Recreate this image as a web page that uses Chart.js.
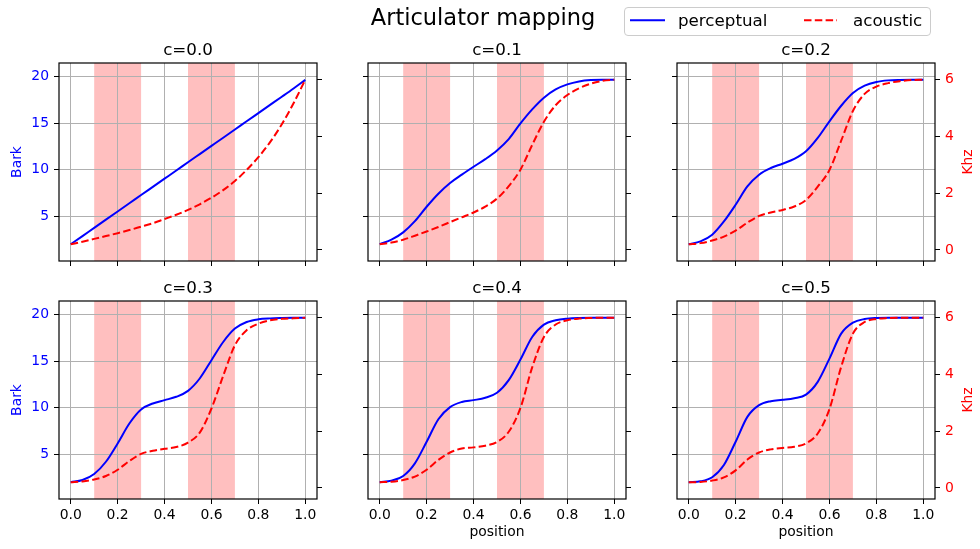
<!DOCTYPE html>
<html>
<head>
<meta charset="utf-8">
<title>Articulator mapping</title>
<script src="https://cdn.jsdelivr.net/npm/chart.js@4.4.1/dist/chart.umd.min.js"></script>
<style>
    body { margin: 0; background: #fff; width: 980px; height: 549px; overflow: hidden; position: relative;
           font-family: 'DejaVu Sans', sans-serif; }
    .panel { position: absolute; width: 363px; height: 286px; }
    #suptitle { position: absolute; left: 283px; top: 6px; width: 400px; text-align: center;
                font-size: 22.5px; line-height: 22.5px; color: #000; z-index: 5; }
    #legend { position: absolute; left: 624px; top: 7px; width: 307px; height: 29px; box-sizing: border-box;
              border: 1px solid #cccccc; border-radius: 4px; background: rgba(255,255,255,0.8); z-index: 5; }
    #legend svg { position: absolute; left: 0; top: 0; }
    #legend span { position: absolute; top: 3.9px; font-size: 16.7px; line-height: 16.7px; color: #000; white-space: nowrap; }
</style>
</head>
<body>
<div id="suptitle">Articulator mapping</div>
<div class="panel" style="left:0px;top:25px"><canvas id="p0"></canvas></div>
<div class="panel" style="left:309px;top:25px"><canvas id="p1"></canvas></div>
<div class="panel" style="left:618px;top:25px"><canvas id="p2"></canvas></div>
<div class="panel" style="left:0px;top:263px"><canvas id="p3"></canvas></div>
<div class="panel" style="left:309px;top:263px"><canvas id="p4"></canvas></div>
<div class="panel" style="left:618px;top:263px"><canvas id="p5"></canvas></div>
<div id="legend">
    <svg width="305" height="27">
        <line x1="5" y1="12.3" x2="40" y2="12.3" stroke="#0000ff" stroke-width="2"/>
        <line x1="179" y1="12.3" x2="212" y2="12.3" stroke="#ff0000" stroke-width="2" stroke-dasharray="7.5 3.3"/>
    </svg>
    <span style="left:53px">perceptual</span>
    <span style="left:228px">acoustic</span>
</div>
<script>
// position along the tract, shared by every panel
const positions = [0, 0.05, 0.1, 0.15, 0.2, 0.25, 0.3, 0.35, 0.4, 0.45, 0.5,
                   0.55, 0.6, 0.65, 0.7, 0.75, 0.8, 0.85, 0.9, 0.95, 1.0];
const cLabels = ['c=0.0', 'c=0.1', 'c=0.2', 'c=0.3', 'c=0.4', 'c=0.5'];
const shadedRegions = [[0.1, 0.3], [0.5, 0.7]];
const xTicks = [0, 0.2, 0.4, 0.6, 0.8, 1.0];
const barkTicks = [5, 10, 15, 20];
const khzTicks = [0, 2, 4, 6];

// perceptual (Bark, left axis)
const perceptualC0 = [1.96, 2.84, 3.73, 4.61, 5.49, 6.37, 7.26, 8.14, 9.02, 9.9, 10.79, 11.67, 12.55, 13.43, 14.31, 15.2, 16.08, 16.96, 17.84, 18.73, 19.65];
const perceptualC1 = [1.97, 2.45, 3.24, 4.45, 6.0, 7.4, 8.55, 9.45, 10.3, 11.12, 12.06, 13.28, 14.97, 16.48, 17.74, 18.63, 19.17, 19.49, 19.64, 19.68, 19.68];
const perceptualC2 = [1.97, 2.27, 2.99, 4.42, 6.22, 8.19, 9.45, 10.17, 10.63, 11.14, 11.96, 13.4, 15.19, 16.87, 18.24, 19.03, 19.43, 19.6, 19.65, 19.66, 19.66];
const perceptualC3 = [1.97, 2.2, 2.85, 4.17, 6.14, 8.29, 9.8, 10.44, 10.8, 11.16, 11.8, 13.13, 15.1, 17.06, 18.5, 19.21, 19.5, 19.6, 19.64, 19.66, 19.66];
const perceptualC4 = [1.97, 2.14, 2.64, 4.0, 6.32, 8.75, 10.05, 10.6, 10.8, 11.05, 11.59, 12.95, 15.17, 17.6, 18.93, 19.39, 19.57, 19.64, 19.66, 19.66, 19.66];
const perceptualC5 = [1.97, 2.06, 2.5, 3.82, 6.32, 9.0, 10.26, 10.69, 10.83, 11.01, 11.4, 12.77, 15.27, 17.96, 19.14, 19.53, 19.64, 19.66, 19.66, 19.66, 19.66];

// acoustic (kHz, right axis)
const acousticC0 = [0.2, 0.29, 0.39, 0.49, 0.59, 0.7, 0.82, 0.94, 1.09, 1.24, 1.41, 1.61, 1.84, 2.11, 2.43, 2.82, 3.27, 3.8, 4.43, 5.17, 6.0];
const acousticC1 = [0.2, 0.26, 0.36, 0.5, 0.65, 0.81, 0.98, 1.15, 1.32, 1.53, 1.81, 2.25, 2.83, 3.7, 4.52, 5.1, 5.46, 5.7, 5.86, 5.96, 6.0];
const acousticC2 = [0.2, 0.24, 0.33, 0.47, 0.68, 0.96, 1.2, 1.32, 1.41, 1.53, 1.76, 2.23, 2.82, 3.85, 4.9, 5.5, 5.76, 5.88, 5.95, 5.99, 6.0];
const acousticC3 = [0.2, 0.23, 0.3, 0.42, 0.64, 0.95, 1.2, 1.31, 1.38, 1.44, 1.6, 1.95, 2.8, 3.95, 5.03, 5.56, 5.79, 5.91, 5.96, 5.98, 6.0];
const acousticC4 = [0.2, 0.22, 0.28, 0.4, 0.64, 0.99, 1.25, 1.39, 1.43, 1.49, 1.62, 1.98, 2.82, 4.25, 5.32, 5.76, 5.91, 5.97, 5.99, 6.0, 6.0];
const acousticC5 = [0.2, 0.21, 0.26, 0.37, 0.62, 1.0, 1.25, 1.36, 1.41, 1.45, 1.57, 1.92, 2.78, 4.27, 5.44, 5.85, 5.96, 5.99, 6.0, 6.0, 6.0];

const perceptualSets = [perceptualC0, perceptualC1, perceptualC2, perceptualC3, perceptualC4, perceptualC5];
const acousticSets = [acousticC0, acousticC1, acousticC2, acousticC3, acousticC4, acousticC5];

Chart.defaults.font.family = "'DejaVu Sans', sans-serif";
Chart.defaults.font.size = 13.9;

const GRID = '#b0b0b0';
const BLUE = '#0000ff';
const RED = '#ff0000';

// spans behind the grid, frame, panel title and the right axis label
const panelDeco = {
    id: 'panelDeco',
    beforeDraw(chart) {
        const { ctx, chartArea: a, scales: { x } } = chart;
        ctx.save();
        ctx.fillStyle = 'rgba(255,0,0,0.25)';
        shadedRegions.forEach(([s, e]) => {
            const x0 = x.getPixelForValue(s), x1 = x.getPixelForValue(e);
            ctx.fillRect(x0, a.top, x1 - x0, a.bottom - a.top);
        });
        ctx.restore();
    },
    afterDraw(chart, args, opts) {
        const { ctx, chartArea: a } = chart;
        ctx.save();
        ctx.strokeStyle = '#000';
        ctx.lineWidth = 1.2;
        ctx.strokeRect(a.left, a.top, a.right - a.left, a.bottom - a.top);
        ctx.fillStyle = '#000';
        ctx.font = "16.7px 'DejaVu Sans'";
        ctx.textAlign = 'center';
        ctx.textBaseline = 'alphabetic';
        ctx.fillText(opts.title, (a.left + a.right) / 2, a.top - 8);
        if (opts.khz) {
            ctx.translate(a.right + 36.7, (a.top + a.bottom) / 2);
            ctx.rotate(-Math.PI / 2);
            ctx.fillStyle = RED;
            ctx.font = "13.9px 'DejaVu Sans'";
            ctx.fillText('Khz', 0, 0);
        }
        ctx.restore();
    }
};

function makePanel(i) {
    const row = Math.floor(i / 3), col = i % 3;
    const ctx = document.getElementById('p' + i).getContext('2d');
    new Chart(ctx, {
        type: 'line',
        data: {
            datasets: [{
                label: 'perceptual',
                data: positions.map((p, k) => ({ x: p, y: perceptualSets[i][k] })),
                yAxisID: 'yL',
                borderColor: BLUE,
                borderWidth: 2,
                pointRadius: 0,
                cubicInterpolationMode: 'monotone',
                fill: false,
                order: 1
            }, {
                label: 'acoustic',
                data: positions.map((p, k) => ({ x: p, y: acousticSets[i][k] })),
                yAxisID: 'yR',
                borderColor: RED,
                borderWidth: 2,
                borderDash: [7.5, 3.3],
                pointRadius: 0,
                cubicInterpolationMode: 'monotone',
                fill: false,
                order: 0
            }]
        },
        options: {
            responsive: true,
            maintainAspectRatio: false,
            animation: false,
            layout: { padding: { top: 38, left: 0, right: 0, bottom: 0 } },
            plugins: {
                legend: { display: false },
                tooltip: { enabled: false },
                panelDeco: { title: cLabels[i], khz: col === 2 }
            },
            scales: {
                x: {
                    type: 'linear', min: -0.05, max: 1.05,
                    afterBuildTicks: s => { s.ticks = xTicks.map(v => ({ value: v })); },
                    afterFit: s => { s.height = 50; },
                    border: { display: false },
                    grid: { color: GRID, lineWidth: 1, tickColor: '#000', tickLength: 5, tickWidth: 1 },
                    ticks: { display: row === 1, color: '#000', padding: 3, maxRotation: 0, autoSkip: false,
                             callback: v => v.toFixed(1) },
                    title: { display: row === 1 && col > 0, text: 'position', color: '#000',
                             font: { size: 13.9 }, padding: { top: 0, bottom: 8 } }
                },
                yL: {
                    type: 'linear', position: 'left', min: 0.16, max: 21.47,
                    afterBuildTicks: s => { s.ticks = barkTicks.map(v => ({ value: v })); },
                    afterFit: s => { s.width = 59; },
                    border: { display: false },
                    grid: { color: GRID, lineWidth: 1, tickColor: '#000', tickLength: 5, tickWidth: 1 },
                    ticks: { display: col === 0, color: BLUE, padding: 5 },
                    title: { display: col === 0, text: 'Bark', color: BLUE,
                             font: { size: 13.9 }, padding: { top: 9.5, bottom: 0 } }
                },
                yR: {
                    type: 'linear', position: 'right', min: -0.39, max: 6.59,
                    afterBuildTicks: s => { s.ticks = khzTicks.map(v => ({ value: v })); },
                    afterFit: s => { s.width = 46; },
                    border: { display: false },
                    grid: { drawOnChartArea: false, tickColor: '#000', tickLength: 5, tickWidth: 1 },
                    ticks: { display: col === 2, color: RED, padding: 5 }
                }
            }
        },
        plugins: [panelDeco]
    });
}

for (let i = 0; i < 6; i++) makePanel(i);
</script>
</body>
</html>
